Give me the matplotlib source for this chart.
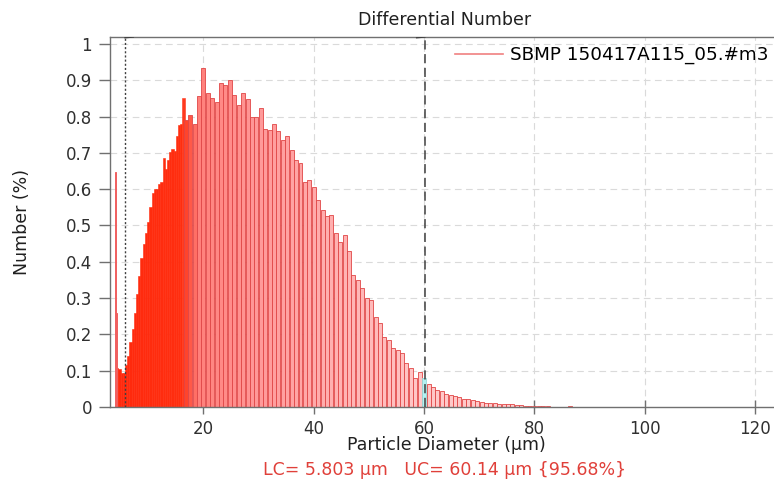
import numpy as np
import matplotlib
matplotlib.use("Agg")
import matplotlib.pyplot as plt
from matplotlib.lines import Line2D

# ---------------- data ----------------
# isolated thin spikes at the lower end
diam_spike = [4.05, 4.22]
num_spike = [0.648, 0.26]

# fine channels (solid region), width 0.4 um
diam_fine = [4.4, 4.8, 5.2, 5.6, 6.0, 6.4, 6.8, 7.2, 7.6, 8.0, 8.4, 8.8, 9.2,
             9.6, 10.0, 10.4, 10.8, 11.2, 11.6, 12.0, 12.4, 12.8, 13.2, 13.6, 14.0,
             14.4, 14.8, 15.2, 15.6, 16.0, 16.4]
num_fine = [0.107, 0.105, 0.095, 0.095, 0.115, 0.14, 0.18, 0.215, 0.26, 0.31,
            0.36, 0.41, 0.45, 0.48, 0.51, 0.55, 0.59, 0.60, 0.60, 0.615, 0.62, 0.686,
            0.655, 0.68, 0.703, 0.71, 0.705, 0.745, 0.777, 0.78, 0.851]

# coarse channels, width 0.8 um
diam_coarse = [16.8, 17.6, 18.4, 19.2, 20.0, 20.8, 21.6, 22.4, 23.2, 24.0, 24.8, 25.6,
               26.4, 27.2, 28.0, 28.8, 29.6, 30.4, 31.2, 32.0, 32.8, 33.6, 34.4, 35.2,
               36.0, 36.8, 37.6, 38.4, 39.2, 40.0, 40.8, 41.6, 42.4, 43.2, 44.0, 44.8,
               45.6, 46.4, 47.2, 48.0, 48.8, 49.6, 50.4, 51.2, 52.0, 52.8, 53.6, 54.4,
               55.2, 56.0, 56.8, 57.6, 58.4, 59.2, 60.0, 60.8, 61.6, 62.4, 63.2, 64.0,
               64.8, 65.6, 66.4, 67.2, 68.0, 68.8, 69.6, 70.4, 71.2, 72.0, 72.8, 73.6,
               74.4, 75.2, 76.0, 76.8, 77.6, 78.4, 79.2, 80.0, 80.8, 81.6, 82.4, 86.4]
num_coarse = [0.79, 0.804, 0.78, 0.857, 0.934, 0.866, 0.85, 0.84, 0.892, 0.886, 0.90,
              0.86, 0.832, 0.865, 0.848, 0.80, 0.80, 0.823, 0.766, 0.763, 0.78, 0.76,
              0.735, 0.745, 0.708, 0.68, 0.672, 0.62, 0.625, 0.606, 0.57, 0.543, 0.525,
              0.529, 0.48, 0.455, 0.474, 0.43, 0.364, 0.35, 0.327, 0.30, 0.295, 0.249,
              0.23, 0.194, 0.185, 0.162, 0.158, 0.148, 0.12, 0.107, 0.08, 0.097, 0.08,
              0.062, 0.055, 0.047, 0.043, 0.037, 0.034, 0.029, 0.027, 0.023, 0.021,
              0.019, 0.017, 0.015, 0.012, 0.011, 0.010, 0.009, 0.008, 0.007, 0.007,
              0.005, 0.005, 0.004, 0.004, 0.004, 0.004, 0.004, 0.003, 0.003]

lc_value = 5.803
uc_value = 60.14
series_name = "SBMP 150417A115_05.#m3"
title = "Differential Number"
xlabel = "Particle Diameter (\u00b5m)"
ylabel = "Number (%)"
footer = "LC= 5.803 \u00b5m   UC= 60.14 \u00b5m {95.68%}"
xticks = [20, 40, 60, 80, 100, 120]
yticks = [0, 0.1, 0.2, 0.3, 0.4, 0.5, 0.6, 0.7, 0.8, 0.9, 1.0]

# ---------------- style ----------------
plt.rcParams['font.family'] = ['DejaVu Sans']
W, H = 774, 486
fig = plt.figure(figsize=(W / 100, H / 100), dpi=100)
ax = fig.add_axes([110 / W, 79 / H, (W - 110) / W, 370 / H])

def face(d):
    ad = [4, 16, 19, 30, 45, 60, 90]
    g = [0.16, 0.18, 0.50, 0.60, 0.70, 0.78, 0.82]
    b = [0.05, 0.06, 0.48, 0.60, 0.70, 0.78, 0.82]
    return (1.0, float(np.interp(d, ad, g)), float(np.interp(d, ad, b)))

grid_c = '#dadada'
for yv in yticks[1:]:
    ax.axhline(yv, color=grid_c, lw=0.8, ls=(0, (6, 4)), zorder=0)
for xv in xticks:
    ax.axvline(xv, color=grid_c, lw=0.8, ls=(0, (6, 4)), zorder=0)

fine_cols = [face(d) for d in diam_fine]
ax.bar(diam_fine, num_fine, width=0.4, color=fine_cols, edgecolor=fine_cols,
       linewidth=0.4, zorder=2)
ax.bar(diam_spike, num_spike, width=0.1, color='#f06060', edgecolor='#f06060',
       linewidth=0.7, zorder=2.5)

coarse_cols = [face(d) for d in diam_coarse]
edge_cols = ['#e04646'] * len(diam_coarse)
for i, d in enumerate(diam_coarse):
    if abs(d - uc_value) < 0.3:
        coarse_cols[i] = (0.7, 0.95, 0.95)
        edge_cols[i] = '#9ad8d8'
ax.bar(diam_coarse, num_coarse, width=0.72, color=coarse_cols, edgecolor=edge_cols,
       linewidth=0.6, zorder=2)

# LC / UC markers
ymax = 1.019
ax.plot([lc_value, lc_value], [0, ymax], color='#404040', lw=1.0, ls=(0, (1.5, 1.5)), zorder=3)
ax.plot([lc_value, lc_value + 1.5], [ymax - 0.002, ymax], color='#404040', lw=1.0, zorder=3)
ax.plot([uc_value, uc_value], [0, ymax], color='#404040', lw=1.1, ls=(0, (6, 3)), zorder=3)
ax.plot([uc_value - 1.5, uc_value], [ymax - 0.002, ymax], color='#404040', lw=1.0, zorder=3)

ax.set_xlim(3.08, 123.4)
ax.set_ylim(0, ymax)
ax.set_xticks(xticks)
ax.set_yticks(yticks)
ax.set_yticklabels(['%g' % v for v in yticks])

for s in ['left', 'top', 'bottom']:
    ax.spines[s].set_color('#707070')
    ax.spines[s].set_linewidth(1.0)
ax.spines['right'].set_visible(False)
ax.tick_params(axis='y', direction='out', length=8, width=1, color='#707070',
               labelsize=12, labelcolor='#303030', pad=5)
ax.tick_params(axis='x', direction='inout', length=10, width=1, color='#707070',
               labelsize=12, labelcolor='#303030', pad=4)

# legend
h = Line2D([], [], color='#f08080', lw=1.2)
ax.legend([h], [series_name], loc='upper right', frameon=False, fontsize=13.2,
          handlelength=2.6, handletextpad=0.4, borderaxespad=0.0,
          bbox_to_anchor=(1.003, 0.995))

fig.text(445 / W, 1 - 20 / H, title, ha='center', va='center', fontsize=12.5, color='#202020')
fig.text(446 / W, 1 - 445 / H, xlabel, ha='center', va='center', fontsize=12.5, color='#202020')
fig.text(22 / W, 1 - 222 / H, ylabel, ha='center', va='center', rotation=90,
         fontsize=12.5, color='#202020')
fig.text(445 / W, 1 - 470 / H, footer, ha='center', va='center', fontsize=12.5, color='#e0403a')

fig.savefig('out.png', dpi=100)
